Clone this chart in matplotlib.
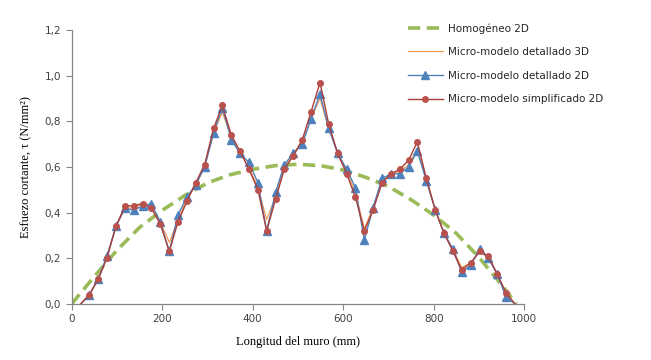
import matplotlib
matplotlib.use('Agg')
import matplotlib.pyplot as plt

# Homogeneo 2D (smooth curve)
x_hom = [0, 50, 100, 150, 200, 250, 300, 350, 400, 450, 500,
         550, 600, 650, 700, 750, 800, 850, 900, 950, 983]
y_hom = [0.0, 0.12, 0.235, 0.335, 0.41, 0.475, 0.53, 0.566, 0.59, 0.606, 0.612,
         0.606, 0.587, 0.555, 0.515, 0.457, 0.39, 0.31, 0.205, 0.085, 0.0]

# micro-model stations along the wall (mm)
x_micro = [20, 39, 59, 78, 98, 118, 137, 157, 176, 196,
           216, 235, 255, 274, 294, 314, 333, 353, 372, 392,
           412, 431, 451, 470, 490, 510, 529, 549, 568, 588,
           608, 627, 647, 666, 686, 706, 725, 745, 764, 784,
           804, 823, 843, 862, 882, 902, 921, 941, 960, 980]

det_3d = [0.0, 0.04, 0.11, 0.21, 0.34, 0.42, 0.42, 0.44, 0.43, 0.36,
          0.27, 0.37, 0.46, 0.52, 0.60, 0.75, 0.84, 0.73, 0.66, 0.60,
          0.51, 0.37, 0.47, 0.60, 0.65, 0.71, 0.81, 0.90, 0.77, 0.66,
          0.58, 0.49, 0.33, 0.42, 0.54, 0.57, 0.58, 0.61, 0.68, 0.55,
          0.41, 0.31, 0.24, 0.16, 0.18, 0.23, 0.20, 0.13, 0.04, 0.0]

det_2d = [0.0, 0.04, 0.11, 0.21, 0.34, 0.42, 0.41, 0.43, 0.44, 0.36,
          0.23, 0.39, 0.47, 0.52, 0.60, 0.75, 0.86, 0.72, 0.66, 0.62,
          0.53, 0.32, 0.49, 0.61, 0.66, 0.70, 0.81, 0.92, 0.77, 0.66,
          0.59, 0.51, 0.28, 0.42, 0.55, 0.57, 0.57, 0.60, 0.67, 0.54,
          0.41, 0.31, 0.24, 0.14, 0.17, 0.24, 0.20, 0.13, 0.03, 0.0]

simp_2d = [0.0, 0.04, 0.11, 0.20, 0.34, 0.43, 0.43, 0.44, 0.42, 0.35,
           0.23, 0.36, 0.45, 0.53, 0.61, 0.77, 0.87, 0.74, 0.67, 0.59,
           0.50, 0.32, 0.46, 0.59, 0.65, 0.72, 0.84, 0.97, 0.79, 0.66,
           0.57, 0.47, 0.32, 0.41, 0.53, 0.57, 0.59, 0.63, 0.71, 0.55,
           0.41, 0.31, 0.23, 0.15, 0.18, 0.23, 0.21, 0.13, 0.05, 0.0]

xticks = [0, 200, 400, 600, 800, 1000]
yticks = [0.0, 0.2, 0.4, 0.6, 0.8, 1.0, 1.2]

fig = plt.figure(figsize=(6.51, 3.6), dpi=100)
ax = fig.add_axes([0.110, 0.1556, 0.695, 0.761])

ax.plot(x_hom, y_hom, color='#9BBB59', lw=2.6, ls=(0, (3.4, 1.8)),
        label='Homogéneo 2D')
ax.plot(x_micro, det_3d, color='#F79646', lw=0.8,
        label='Micro-modelo detallado 3D')
ax.plot(x_micro, det_2d, color='#4F81BD', lw=1.0, marker='^', ms=6.2,
        markevery=slice(1, -1), label='Micro-modelo detallado 2D')
ax.plot(x_micro, simp_2d, color='#A83E3B', lw=1.0, marker='o', ms=4,
        mfc='#B9514D', mec='#B9514D', markevery=slice(1, -1),
        label='Micro-modelo simplificado 2D')

ax.set_xlim(0, 1000)
ax.set_ylim(0, 1.2)
ax.set_xticks(xticks)
ax.set_yticks(yticks)
ax.set_xticklabels([str(v) for v in xticks])
ax.set_yticklabels([('%.1f' % v).replace('.', ',') for v in yticks])
ax.tick_params(labelsize=7.5, colors='#404040', length=4, width=0.8)
ax.tick_params(axis='both', color='#868686')

for s in ['top', 'right']:
    ax.spines[s].set_visible(False)
for s in ['left', 'bottom']:
    ax.spines[s].set_color('#868686')
    ax.spines[s].set_linewidth(0.9)

ax.set_xlabel('Longitud del muro (mm)', fontname='Liberation Serif',
              fontsize=9, labelpad=8)
ax.set_ylabel('Esfuezo cortante, τ (N/mm²)', fontname='Liberation Serif',
              fontsize=9, labelpad=9)

leg = fig.legend(loc='upper left', bbox_to_anchor=(0.612, 0.962),
                 frameon=False, fontsize=7.5, handlelength=3.4,
                 labelspacing=1.3, handletextpad=0.5)
for t in leg.get_texts():
    t.set_color('#262626')

fig.savefig('out.png', dpi=100)
